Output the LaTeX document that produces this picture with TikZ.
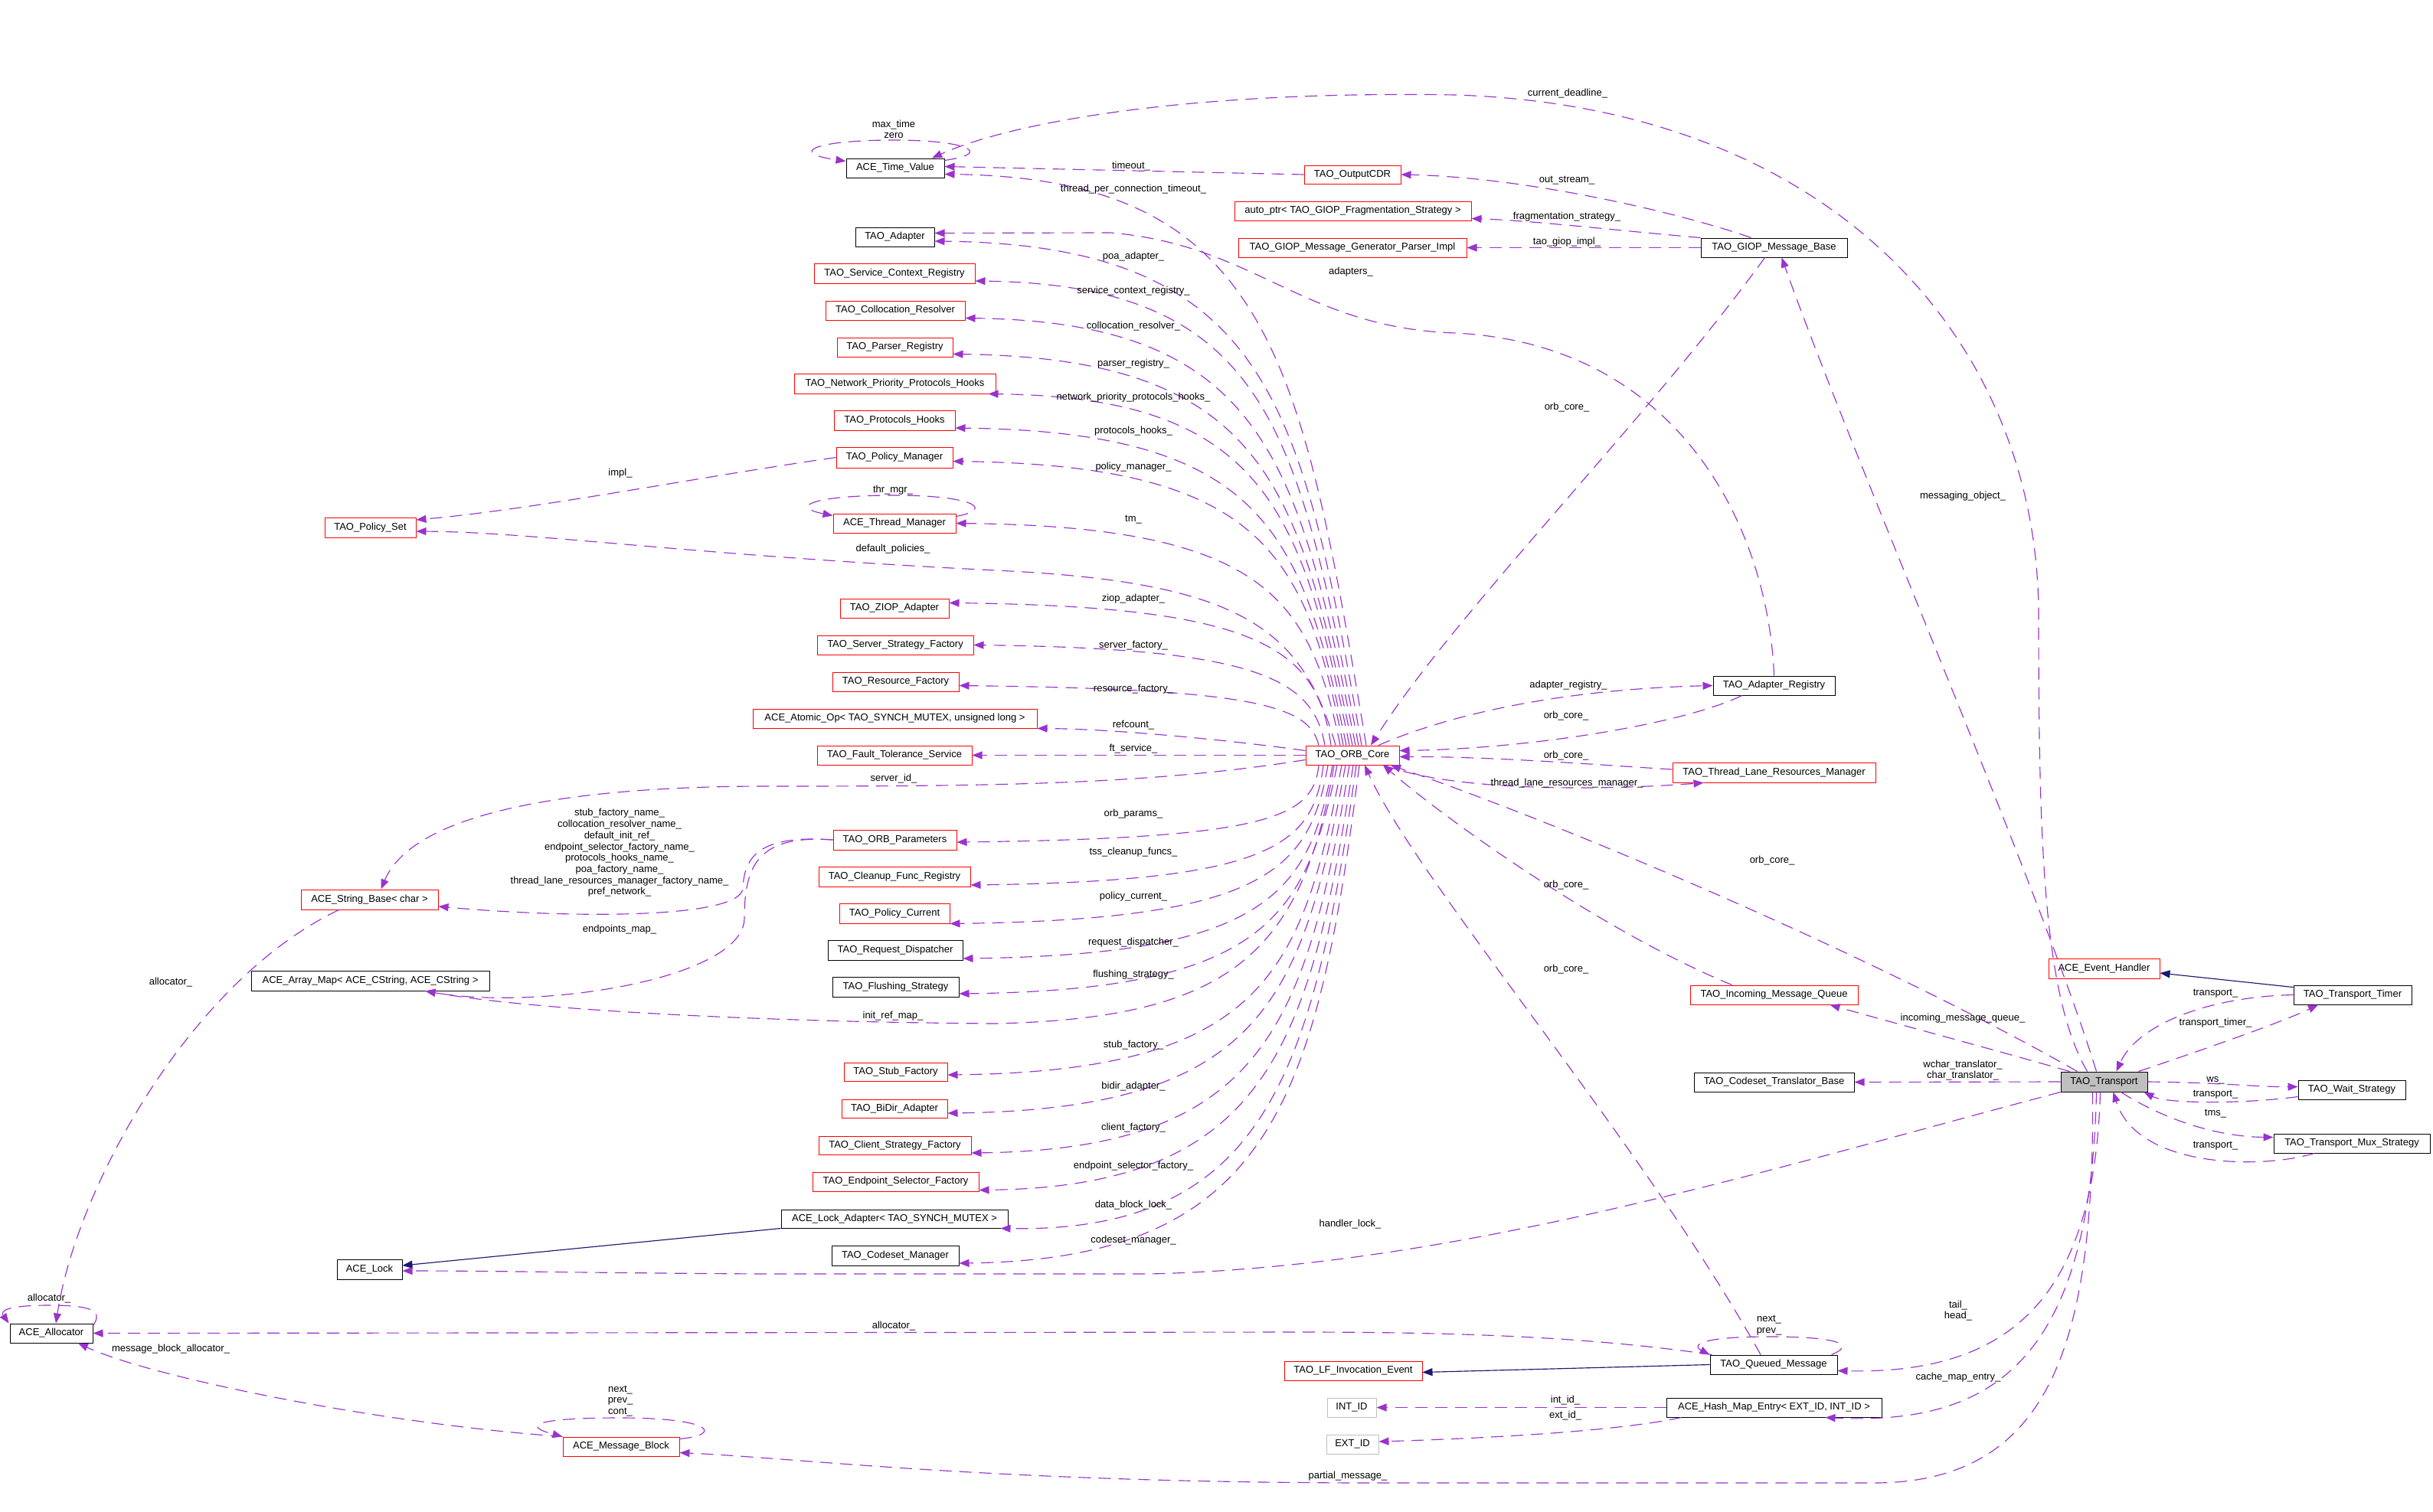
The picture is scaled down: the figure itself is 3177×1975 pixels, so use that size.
\documentclass[tikz,border=0pt]{standalone}
\usepackage{fontspec}
\setmainfont{Liberation Sans}
\usetikzlibrary{arrows.meta}
\definecolor{dpurp}{HTML}{9A32CD}
\definecolor{dnavy}{HTML}{191970}
\definecolor{dred}{HTML}{FF0000}
\definecolor{lgray}{HTML}{BFBFBF}
\newcommand{\dfont}{\fontsize{13}{14.7}\selectfont}
\newcommand{\cbox}[7]{\node[#6, minimum width={(#4-#2)*1pt}, minimum height={(#5-#3)*1pt}] (#1) at ({(#2+#4)/2},{(#3+#5)/2}) {#7};}
\newcommand{\elab}[4]{\node[lab] (#1) at (#2,#3) {#4};}
\tikzset{
  cls/.style={draw, line width=1pt, inner sep=0pt, font=\dfont, text=black},
  redc/.style={cls, draw=dred},
  blkc/.style={cls, draw=black},
  gryc/.style={cls, draw=lgray},
  dep/.style={draw=dpurp, line width=1.15pt, dash pattern=on 16pt off 10pt, -{Triangle[length=13pt,width=10pt]}},
  inh/.style={draw=dnavy, line width=1.15pt, -{Triangle[length=13pt,width=10pt]}},
  lab/.style={font=\dfont, align=center, inner sep=0pt, text=black}
}
\begin{document}
\begin{tikzpicture}[x=1pt,y=-1pt]
\useasboundingbox (0,0) rectangle (3177,1975);
\fill[white] (0,0) rectangle (3177,1975);
% ---------- classes ----------
\cbox{atv}{1105}{207}{1233}{232}{blkc}{ACE\_Time\_Value}
\cbox{oc}{1703}{216}{1829}{240}{redc}{TAO\_OutputCDR}
\cbox{ap}{1612}{263}{1921}{288}{redc}{auto\_ptr< TAO\_GIOP\_Fragmentation\_Strategy >}
\cbox{gp}{1617}{311}{1915}{336}{redc}{TAO\_GIOP\_Message\_Generator\_Parser\_Impl}
\cbox{gb}{2221}{311}{2412}{336}{blkc}{TAO\_GIOP\_Message\_Base}
\cbox{ad}{1117}{297}{1220}{322}{blkc}{TAO\_Adapter}
\cbox{scr}{1063}{344}{1273}{370}{redc}{TAO\_Service\_Context\_Registry}
\cbox{cr}{1078}{393}{1260}{418}{redc}{TAO\_Collocation\_Resolver}
\cbox{pr}{1093}{441}{1244}{466}{redc}{TAO\_Parser\_Registry}
\cbox{npph}{1037}{488}{1300}{514}{redc}{TAO\_Network\_Priority\_Protocols\_Hooks}
\cbox{ph}{1089}{536}{1247}{562}{redc}{TAO\_Protocols\_Hooks}
\cbox{pm}{1092}{584}{1244}{611}{redc}{TAO\_Policy\_Manager}
\cbox{ps}{424}{676}{543}{702}{redc}{TAO\_Policy\_Set}
\cbox{tm}{1088}{671}{1248}{696}{redc}{ACE\_Thread\_Manager}
\cbox{ziop}{1097}{782}{1239}{807}{redc}{TAO\_ZIOP\_Adapter}
\cbox{ssf}{1067}{830}{1271}{855}{redc}{TAO\_Server\_Strategy\_Factory}
\cbox{rf}{1087}{878}{1252}{903}{redc}{TAO\_Resource\_Factory}
\cbox{ao}{983}{926}{1354}{951}{redc}{ACE\_Atomic\_Op< TAO\_SYNCH\_MUTEX, unsigned long >}
\cbox{fts}{1067}{974}{1269}{999}{redc}{TAO\_Fault\_Tolerance\_Service}
\cbox{orb}{1705}{974}{1827}{999}{redc}{TAO\_ORB\_Core}
\cbox{ar}{2237}{883}{2396}{908}{blkc}{TAO\_Adapter\_Registry}
\cbox{tlrm}{2184}{996}{2449}{1022}{redc}{TAO\_Thread\_Lane\_Resources\_Manager}
\cbox{sb}{393}{1162}{572}{1188}{redc}{ACE\_String\_Base< char >}
\cbox{op}{1088}{1084}{1249}{1110}{redc}{TAO\_ORB\_Parameters}
\cbox{cfr}{1069}{1132}{1267}{1158}{redc}{TAO\_Cleanup\_Func\_Registry}
\cbox{pc}{1096}{1180}{1240}{1206}{redc}{TAO\_Policy\_Current}
\cbox{am}{328}{1268}{639}{1294}{blkc}{ACE\_Array\_Map< ACE\_CString, ACE\_CString >}
\cbox{rd}{1081}{1228}{1257}{1254}{blkc}{TAO\_Request\_Dispatcher}
\cbox{fs}{1087}{1276}{1252}{1302}{blkc}{TAO\_Flushing\_Strategy}
\cbox{sf}{1102}{1388}{1237}{1412}{redc}{TAO\_Stub\_Factory}
\cbox{bda}{1099}{1436}{1237}{1460}{redc}{TAO\_BiDir\_Adapter}
\cbox{csf}{1069}{1484}{1268}{1508}{redc}{TAO\_Client\_Strategy\_Factory}
\cbox{esf}{1061}{1531}{1278}{1556}{redc}{TAO\_Endpoint\_Selector\_Factory}
\cbox{la}{1020}{1580}{1316}{1604}{blkc}{ACE\_Lock\_Adapter< TAO\_SYNCH\_MUTEX >}
\cbox{cm}{1086}{1627}{1252}{1653}{blkc}{TAO\_Codeset\_Manager}
\cbox{lock}{440}{1645}{525}{1671}{blkc}{ACE\_Lock}
\cbox{al}{13}{1729}{121}{1754}{blkc}{ACE\_Allocator}
\cbox{mb}{735}{1877}{887}{1902}{redc}{ACE\_Message\_Block}
\cbox{lf}{1677}{1778}{1857}{1803}{redc}{TAO\_LF\_Invocation\_Event}
\cbox{intid}{1733}{1826}{1797}{1851}{gryc}{INT\_ID}
\cbox{extid}{1732}{1874}{1800}{1899}{gryc}{EXT\_ID}
\cbox{qm}{2233}{1770}{2399}{1795}{blkc}{TAO\_Queued\_Message}
\cbox{hm}{2176}{1826}{2457}{1851}{blkc}{ACE\_Hash\_Map\_Entry< EXT\_ID, INT\_ID >}
\cbox{imq}{2207}{1287}{2426}{1312}{redc}{TAO\_Incoming\_Message\_Queue}
\cbox{ctb}{2212}{1401}{2421}{1426}{blkc}{TAO\_Codeset\_Translator\_Base}
\cbox{tr}{2691}{1400}{2804}{1426}{blkc, fill=lgray}{TAO\_Transport}
\cbox{eh}{2675}{1252}{2820}{1278}{redc}{ACE\_Event\_Handler}
\cbox{tt}{2995}{1287}{3149}{1312}{blkc}{TAO\_Transport\_Timer}
\cbox{ws}{3001}{1411}{3141}{1436}{blkc}{TAO\_Wait\_Strategy}
\cbox{mux}{2969}{1481}{3173}{1506}{blkc}{TAO\_Transport\_Mux\_Strategy}
% ---------- ORB_Core upper fan ----------
\draw[dep] ([xshift=18pt]orb.north) .. controls (1700,474) and (1660,233) .. ([yshift=-8pt]atv.east);
\draw[dep] ([xshift=12pt]orb.north) .. controls (1700,532) and (1660,320) .. ([yshift=-5.5pt]ad.east);
\draw[dep] ([xshift=8pt]orb.north) .. controls (1695,569) and (1660,372) .. ([yshift=-10pt]scr.east);
\draw[dep] ([xshift=4pt]orb.north) .. controls (1695,601) and (1650,421) .. ([yshift=-10pt]cr.east);
\draw[dep] ([xshift=0pt]orb.north) .. controls (1695,632) and (1650,468) .. ([yshift=-9pt]pr.east);
\draw[dep] ([xshift=-4pt]orb.north) .. controls (1700,666) and (1650,519) .. ([xshift=-10pt]npph.south east);
\draw[dep] ([xshift=-8pt]orb.north) .. controls (1700,696) and (1650,564) .. ([yshift=-10pt]ph.east);
\draw[dep] ([xshift=-12pt]orb.north) .. controls (1705,725) and (1650,608) .. ([yshift=-5pt]pm.east);
\draw[dep] ([xshift=-16pt]orb.north) .. controls (1710,780) and (1650,688) .. (tm.east);
\draw[dep] ([xshift=-22pt]orb.north) .. controls (1700,820) and (1620,760) .. (1300,745) .. controls (900,725) and (700,695) .. ([yshift=-5pt]ps.east);
\draw[dep] ([xshift=-28pt]orb.north) .. controls (1720,849) and (1650,792) .. ([yshift=7pt]ziop.east);
\draw[dep] ([xshift=-36pt]orb.north) .. controls (1715,886) and (1640,847) .. (ssf.east);
\draw[dep] ([xshift=-44pt]orb.north) .. controls (1710,922) and (1640,900) .. ([yshift=-5pt]rf.east);
\draw[dep] ([yshift=6pt]orb.west) .. controls (1600,966) and (1450,952) .. (ao.south east);
\draw[dep] (orb.west) -- (fts.east);
% ---------- ORB_Core lower fan ----------
\draw[dep] ([xshift=-44pt]orb.south) .. controls (1715,1067) and (1660,1095) .. ([yshift=-3pt]op.east);
\draw[dep] ([xshift=-38pt]orb.south) .. controls (1715,1104) and (1660,1151) .. ([yshift=-11pt]cfr.east);
\draw[dep] ([xshift=-32pt]orb.south) .. controls (1710,1138) and (1650,1201) .. (pc.south east);
\draw[dep] ([xshift=-26pt]orb.south) .. controls (1710,1169) and (1650,1247) .. ([yshift=-11pt]rd.east);
\draw[dep] ([xshift=-20pt]orb.south) .. controls (1705,1199) and (1650,1293) .. ([yshift=-9pt]fs.east);
\draw[dep] ([xshift=-24pt]orb.south) .. controls (1700,1250) and (1600,1330) .. (1300,1337) .. controls (1000,1335) and (700,1320) .. ([xshift=72pt]am.south);
\draw[dep] ([xshift=-14pt]orb.south) .. controls (1700,1270) and (1650,1399) .. ([yshift=-4pt]sf.east);
\draw[dep] ([xshift=-9pt]orb.south) .. controls (1700,1304) and (1650,1449) .. ([yshift=-6pt]bda.east);
\draw[dep] ([xshift=-4pt]orb.south) .. controls (1705,1339) and (1650,1501) .. ([yshift=-10pt]csf.east);
\draw[dep] ([xshift=1pt]orb.south) .. controls (1710,1372) and (1650,1550) .. ([yshift=-11pt]esf.east);
\draw[dep] ([xshift=5pt]orb.south) .. controls (1715,1404) and (1650,1610) .. ([xshift=-10pt]la.south east);
\draw[dep] ([xshift=9pt]orb.south) .. controls (1720,1435) and (1660,1645) .. ([yshift=-10pt]cm.east);
\draw[dep] ([yshift=-6pt]orb.west) .. controls (1500,1025) and (1300,1027) .. (1000,1027) .. controls (750,1027) and (540,1060) .. ([xshift=15pt]sb.north);
% ---------- ORB_Parameters ----------
\draw[dep] (op.west) .. controls (990,1090) and (972,1120) .. (970,1160) .. controls (968,1200) and (750,1200) .. ([yshift=-9pt]sb.east);
\draw[dep] (op.west) .. controls (990,1090) and (972,1130) .. (972,1200) .. controls (970,1280) and (700,1320) .. ([xshift=72pt]am.south);
% ---------- Policy manager ----------
\draw[dep] (pm.west) .. controls (900,625) and (700,665) .. ([yshift=10pt]ps.east);
% ---------- self loops ----------
\draw[dep] ([yshift=-3pt]atv.north east) .. controls (1300,200) and (1260,183) .. (1168,183) .. controls (1060,183) and (1030,200) .. ([yshift=-4pt]atv.north west);
\draw[dep] ([yshift=-4pt]tm.north east) .. controls (1300,665) and (1270,647) .. (1168,647) .. controls (1060,647) and (1030,662) .. ([yshift=-3pt]tm.north west);
\draw[dep] ([yshift=-3pt]al.north east) .. controls (135,1712) and (120,1705) .. (64,1705) .. controls (10,1705) and (0,1712) .. ([xshift=-1pt]al.north west);
\draw[dep] ([yshift=-3pt]mb.north east) .. controls (945,1874) and (930,1852) .. (810,1852) .. controls (700,1852) and (680,1862) .. (mb.north west);
\draw[dep] ([xshift=-8pt]qm.north east) .. controls (2420,1758) and (2410,1746) .. (2310,1746) .. controls (2215,1746) and (2210,1758) .. (qm.north west);
% ---------- allocators ----------
\draw[dep] ([xshift=-40pt]sb.south) .. controls (250,1280) and (100,1550) .. ([xshift=6pt]al.north);
\draw[dep] (mb.north west) .. controls (500,1860) and (200,1800) .. ([xshift=35pt]al.south);
\draw[dep] ([xshift=3pt]qm.north west) .. controls (2100,1750) and (1950,1740) .. (1700,1740) -- (al.east);
% ---------- locks ----------
\draw[inh] (la.south west) -- ([yshift=5pt]lock.east);
\draw[dep] (tr.south west) .. controls (2300,1530) and (1900,1655) .. (1500,1664) -- (1000,1664) .. controls (800,1663) and (650,1660) .. ([yshift=-2pt]lock.east);
% ---------- GIOP ----------
\draw[dep] (oc.west) -- ([yshift=2pt]atv.east);
\draw[dep] ([xshift=-30pt]gb.north) .. controls (2200,280) and (2000,232) .. (oc.east);
\draw[dep] (gb.north west) .. controls (2100,300) and (2000,288) .. ([yshift=-10pt]ap.east);
\draw[dep] (gb.west) -- (gp.east);
\draw[dep] ([xshift=-12pt]gb.south) .. controls (2150,550) and (1900,800) .. ([xshift=24pt]orb.north);
% ---------- adapters ----------
\draw[dep] (ar.north) .. controls (2310,700) and (2200,450) .. (1900,435) .. controls (1700,428) and (1640,320) .. (1450,304) -- ([yshift=5pt]ad.east);
\draw[dep] ([xshift=34pt]orb.north) .. controls (1900,930) and (2050,900) .. (ar.west);
\draw[dep] ([xshift=-42pt]ar.south) .. controls (2200,945) and (2000,978) .. ([yshift=6pt]orb.east);
\draw[dep] ([yshift=4pt]tlrm.west) .. controls (2100,1000) and (1950,988) .. ([yshift=-2pt]orb.east);
\draw[dep] ([xshift=-20pt]orb.south east) .. controls (1900,1035) and (2100,1032) .. ([xshift=-92pt]tlrm.south);
\draw[dep] ([xshift=-55pt]imq.north) .. controls (2100,1220) and (1900,1080) .. ([xshift=40pt]orb.south);
\draw[dep] ([xshift=-35pt]tr.north) .. controls (2450,1250) and (2050,1080) .. ([xshift=50pt]orb.south);
\draw[dep] ([xshift=-17pt]qm.north) .. controls (2150,1500) and (1850,1150) .. ([xshift=16pt]orb.south);
% ---------- transport ----------
\draw[dep] ([xshift=-22pt]tr.north) .. controls (2668,1300) and (2662,1100) .. (2662,800) .. controls (2660,450) and (2400,140) .. (1900,124) .. controls (1550,118) and (1320,160) .. ([xshift=48pt]atv.north);
\draw[dep] ([xshift=-10pt]tr.north) .. controls (2660,1150) and (2420,600) .. ([xshift=10pt]gb.south);
\draw[dep] ([xshift=-45pt]tr.north) .. controls (2600,1370) and (2450,1330) .. ([xshift=73pt]imq.south);
\draw[dep] (tr.west) -- (ctb.east);
\draw[inh] ([yshift=-3pt]tt.north west) -- ([yshift=-6pt]eh.east);
\draw[dep] (tt.west) .. controls (2880,1302) and (2790,1340) .. ([xshift=16pt]tr.north);
\draw[dep] ([xshift=45pt]tr.north) .. controls (2880,1370) and (2980,1335) .. ([xshift=-45pt]tt.south);
\draw[dep] (tr.east) .. controls (2900,1414) and (2950,1420) .. ([yshift=4pt]ws.west);
\draw[dep] ([yshift=-9pt]ws.west) .. controls (2930,1442) and (2830,1442) .. ([xshift=-5pt]tr.south east);
\draw[dep] ([xshift=22pt]tr.south) .. controls (2830,1465) and (2900,1485) .. ([yshift=8pt]mux.west);
\draw[dep] ([xshift=-49pt]mux.south) .. controls (2950,1528) and (2790,1525) .. ([xshift=12pt]tr.south);
\draw[dep] ([xshift=-5pt]tr.south) .. controls (2735,1700) and (2620,1795) .. ([yshift=-8pt]qm.east);
\draw[dep] ([xshift=-10pt]tr.south) .. controls (2730,1780) and (2600,1862) .. ([xshift=67pt]hm.south);
\draw[dep] ([xshift=-15pt]tr.south) .. controls (2735,1750) and (2680,1935) .. (2450,1937) -- (1800,1937) .. controls (1300,1937) and (1050,1905) .. ([yshift=-8pt]mb.east);
% ---------- queued message / hash map ----------
\draw[inh] (qm.west) -- ([yshift=-2pt]lf.east);
\draw[dep] (hm.west) -- (intid.east);
\draw[dep] ([xshift=20pt]hm.south west) .. controls (2100,1872) and (1900,1880) .. ([yshift=3.5pt]extid.east);
% ---------- labels ----------
\elab{l1}{1167}{169}{max\_time\\zero}
\elab{l2}{1477}{217}{timeout\_}
\elab{l3}{1480}{247}{thread\_per\_connection\_timeout\_}
\elab{l4}{2047}{122}{current\_deadline\_}
\elab{l5}{2046}{236}{out\_stream\_}
\elab{l6}{2046}{283}{fragmentation\_strategy\_}
\elab{l7}{2046}{316}{tao\_giop\_impl\_}
\elab{l8}{1480}{335}{poa\_adapter\_}
\elab{l9}{1764}{355}{adapters\_}
\elab{l10}{1480}{380}{service\_context\_registry\_}
\elab{l11}{1480}{426}{collocation\_resolver\_}
\elab{l12}{1480}{475}{parser\_registry\_}
\elab{l13}{1480}{519}{network\_priority\_protocols\_hooks\_}
\elab{l14}{1480}{563}{protocols\_hooks\_}
\elab{l15}{810}{618}{impl\_}
\elab{l16}{1480}{610}{policy\_manager\_}
\elab{l17}{1166}{640}{thr\_mgr\_}
\elab{l18}{2563}{648}{messaging\_object\_}
\elab{l19}{1480}{679}{tm\_}
\elab{l20}{1166}{717}{default\_policies\_}
\elab{l21}{2046}{532}{orb\_core\_}
\elab{l22}{1480}{782}{ziop\_adapter\_}
\elab{l23}{1480}{843}{server\_factory\_}
\elab{l24}{1480}{900}{resource\_factory\_}
\elab{l25}{1480}{947}{refcount\_}
\elab{l26}{1480}{978}{ft\_service\_}
\elab{l27}{2048}{895}{adapter\_registry\_}
\elab{l28}{2045}{935}{orb\_core\_}
\elab{l29}{2045}{987}{orb\_core\_}
\elab{l30}{2046}{1023}{thread\_lane\_resources\_manager\_}
\elab{l31}{1167}{1017}{server\_id\_}
\elab{l32}{1480}{1063}{orb\_params\_}
\elab{l33}{809}{1114}{stub\_factory\_name\_\\collocation\_resolver\_name\_\\default\_init\_ref\_\\endpoint\_selector\_factory\_name\_\\protocols\_hooks\_name\_\\poa\_factory\_name\_\\thread\_lane\_resources\_manager\_factory\_name\_\\pref\_network\_}
\elab{l34}{1480}{1113}{tss\_cleanup\_funcs\_}
\elab{l35}{2314}{1124}{orb\_core\_}
\elab{l36}{2045}{1156}{orb\_core\_}
\elab{l37}{1480}{1171}{policy\_current\_}
\elab{l38}{809}{1214}{endpoints\_map\_}
\elab{l39}{1480}{1231}{request\_dispatcher\_}
\elab{l40}{2045}{1266}{orb\_core\_}
\elab{l41}{223}{1283}{allocator\_}
\elab{l42}{1480}{1273}{flushing\_strategy\_}
\elab{l43}{2893}{1298}{transport\_}
\elab{l44}{2563}{1330}{incoming\_message\_queue\_}
\elab{l45}{1166}{1327}{init\_ref\_map\_}
\elab{l46}{2893}{1336}{transport\_timer\_}
\elab{l47}{1480}{1365}{stub\_factory\_}
\elab{l48}{2563}{1398}{wchar\_translator\_\\char\_translator\_}
\elab{l49}{2893}{1411}{ws\_}
\elab{l50}{1480}{1419}{bidir\_adapter\_}
\elab{l51}{2893}{1430}{transport\_}
\elab{l52}{2893}{1455}{tms\_}
\elab{l53}{1480}{1473}{client\_factory\_}
\elab{l54}{2893}{1497}{transport\_}
\elab{l55}{1480}{1523}{endpoint\_selector\_factory\_}
\elab{l56}{1480}{1574}{data\_block\_lock\_}
\elab{l57}{1763}{1599}{handler\_lock\_}
\elab{l58}{1480}{1620}{codeset\_manager\_}
\elab{l59}{64}{1696}{allocator\_}
\elab{l60}{2557}{1712}{tail\_\\head\_}
\elab{l61}{2310}{1731}{next\_\\prev\_}
\elab{l62}{1167}{1732}{allocator\_}
\elab{l63}{223}{1762}{message\_block\_allocator\_}
\elab{l64}{2557}{1799}{cache\_map\_entry\_}
\elab{l65}{810}{1830}{next\_\\prev\_\\cont\_}
\elab{l66}{2044}{1829}{int\_id\_}
\elab{l67}{2044}{1849}{ext\_id\_}
\elab{l68}{1760}{1928}{partial\_message\_}
\end{tikzpicture}
\end{document}
